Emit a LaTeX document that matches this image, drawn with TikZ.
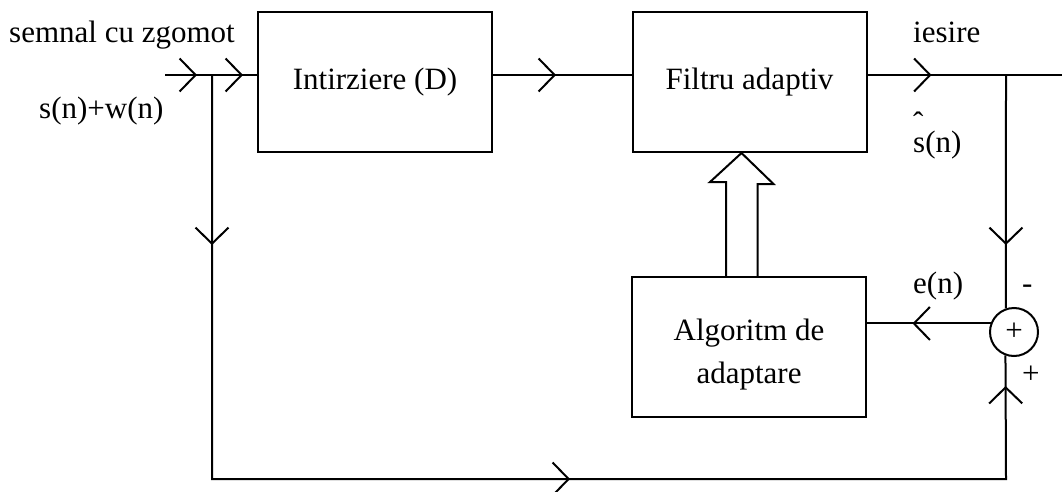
\documentclass[tikz,border=0pt]{standalone}
\usepackage{fontspec}
\setmainfont{Liberation Serif}
\usetikzlibrary{arrows.meta,decorations.markings,calc}

\tikzset{
  block/.style={draw,line width=2pt,minimum width=234pt,minimum height=140pt,inner sep=0pt,align=center},
  wire/.style={line width=2pt},
  flow/.style={postaction={decorate,decoration={markings,mark=at position #1 with {\arrow{Straight Barb[length=16pt,width=33pt]}}}}},
  lbl/.style={inner sep=0pt,anchor=base west}
}

\begin{document}
\begin{tikzpicture}[x=1pt,y=-1pt,font=\fontsize{31}{43}\selectfont]
\useasboundingbox (0,0) rectangle (1062,492);
% blocuri
\node[block] (delay) at (375,82) {Intirziere (D)};
\node[block] (filt) at (749.5,82) {Filtru adaptiv};
\node[block,text height=72pt,text depth=0pt] (algo) at (749,347) {Algoritm de\\adaptare};
\node[draw,line width=2pt,circle,minimum size=48pt,inner sep=0pt] (sum) at (1014,332) {+};
% puncte de ramificare
\coordinate (in) at (165,75);
\coordinate (jin) at (212,75);
\coordinate (jout) at (1006,75);
\coordinate (out) at (1062,75);
\coordinate (bl) at (212,479);
\coordinate (br) at (1006,479);
% legaturi
\draw[wire,flow=32pt] (in) -- (jin);
\draw[wire,flow=31pt] (jin) -- (jin -| delay.west);
\draw[wire,flow=63pt] (delay.east |- jin) -- (filt.west |- jin);
\draw[wire,flow=64pt] (filt.east |- jin) -- (out);
\draw[wire,flow=170pt] (jout) -- (sum.109.5);
\draw[wire,flow=78pt] (sum.160.5) -- (sum.160.5 -| algo.east);
\draw[wire,flow=170pt,flow=762pt,flow=1291pt] (jin) -- (bl) -- (br) -- (sum.250.5);
% sageata dubla (adaptare)
\draw[wire,line join=miter] ($(algo.north)+(-23,0)$) -- ++(0,-94) -- ++(-16,0)
  -- ($(filt.south)+(-8,0)$) -- ++(32,31) -- ++(-16,0) -- ($(algo.north)+(8.5,0)$);
% etichete
\node[lbl] (tin) at (9,43) {semnal cu zgomot};
\node[lbl] (tsw) at (39,119) {s(n)+w(n)};
\node[lbl] (tout) at (913,43) {iesire};
\node[lbl] (ts) at (913,152) {\begin{tabular}[b]{@{}l@{}}ˆ\\[-25pt]s(n)\end{tabular}};
\node[lbl] (ten) at (913,293) {e(n)};
\node[lbl] (tminus) at (1022,293) {-};
\node[lbl] (tplus) at (1022,383) {+};
\end{tikzpicture}
\end{document}
